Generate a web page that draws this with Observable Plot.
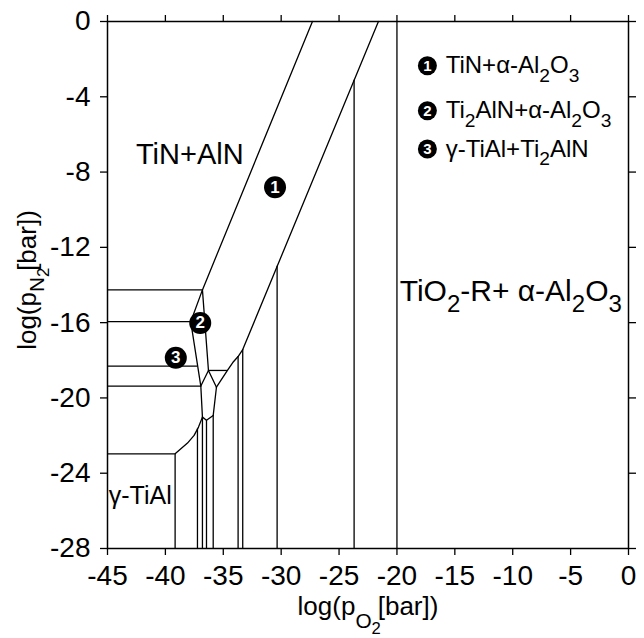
<!DOCTYPE html>
<html><head><meta charset="utf-8">
<script src="https://cdn.jsdelivr.net/npm/d3@7"></script>
<script src="https://cdn.jsdelivr.net/npm/@observablehq/plot@0.6"></script>
<style>body{margin:0;background:#fff}</style>
</head><body><div id="chart"></div>
<script>
// ---- data (log pO2, log pN2) ----
const xTicks = [-45, -40, -35, -30, -25, -20, -15, -10, -5, 0];
const yTicks = [0, -4, -8, -12, -16, -20, -24, -28];

// phase boundary polylines
const bandUpper  = [[-27.3, 0], [-36.80, -14.26]];
const bandLower  = [[-21.6, 0], [-33.32, -17.43], [-33.72, -17.80], [-34.18, -18.12], [-34.64, -18.54], [-35.59, -19.43]];
const wedgeLeft  = [[-36.80, -14.26], [-37.81, -15.95], [-36.94, -19.37]];
const wedgeRight = [[-36.80, -14.26], [-36.28, -18.54]];
const diamond    = [[-36.94, -19.37], [-36.28, -18.54], [-35.59, -19.43]];
const wedgeFoot  = [[-36.94, -19.37], [-36.80, -21.02], [-36.45, -21.19], [-35.87, -20.93], [-35.59, -19.43]];
const gammaCurve = [[-39.16, -22.97], [-38.09, -22.40], [-37.52, -21.99], [-37.14, -21.55], [-36.80, -21.02]];

// horizontal boundaries: y from x1 to x2
const hY  = [-14.26, -15.95, -18.31, -19.37, -18.54, -22.97];
const hX1 = [-45, -45, -45, -45, -36.28, -45];
const hX2 = [-36.80, -37.81, -37.21, -36.94, -34.64, -39.16];

// vertical boundaries: x from yTop down to -28
const vX   = [-39.16, -37.23, -36.80, -36.45, -35.87, -33.72, -33.32, -30.35, -23.70, -20];
const vTop = [-22.97, -21.65, -21.02, -21.19, -20.93, -17.80, -17.43, -13.01, -3.12, 0];

// numbered markers in the diagram
const markNum = ["1", "2", "3"];
const markX   = [-30.53, -36.99, -39.10];
const markY   = [-8.81, -16.02, -17.87];

// legend
const legNum  = ["1", "2", "3"];
const legText = ["TiN+α-Al_{2}O_{3}", "Ti_{2}AlN+α-Al_{2}O_{3}", "γ-TiAl+Ti_{2}AlN"];
const legMX = -17.37, legTX = -15.79;
const legY  = [-2.35, -4.74, -6.77];

// region labels
const regText = ["TiN+AlN", "TiO_{2}-R+ α-Al_{2}O_{3}", "γ-TiAl"];
const regX    = [-37.89, -10.17, -44.89];
const regY    = [-7.10, -14.35, -25.19];
const regSize = [29, 30, 25];
const regAnchor = ["middle", "middle", "start"];

const xLabel = "log(p_{O_{2}}[bar])";
const yLabel = "log(p_{N_{2}}[bar]) ";

// ---- build tables ----
const polylines = {bandUpper, bandLower, wedgeLeft, wedgeRight, diamond, wedgeFoot, gammaCurve};
const lineRows = [];
for (const [name, pts] of Object.entries(polylines)) pts.forEach(([x, y]) => lineRows.push({name, x, y}));
const hRows = hY.map((y, i) => ({y, x1: hX1[i], x2: hX2[i]}));
const vRows = vX.map((x, i) => ({x, y1: vTop[i], y2: -28}));
const marks = markNum.map((n, i) => ({n, x: markX[i], y: markY[i]}));
const legend = legNum.map((n, i) => ({n, t: legText[i], y: legY[i]}));
const regions = regText.map((t, i) => ({t, x: regX[i], y: regY[i], s: regSize[i], a: regAnchor[i]}));

const fmt = d => String(d);
const plot = Plot.plot({
  width: 644, height: 638,
  marginLeft: 107, marginRight: 16, marginTop: 21, marginBottom: 90,
  style: {fontFamily: "'Liberation Sans', Arial, sans-serif", background: "white", color: "black"},
  x: {domain: [-45, 0]},
  y: {domain: [-28, 0]},
  marks: [
    Plot.ruleY(hRows, {y: "y", x1: "x1", x2: "x2", stroke: "black", strokeWidth: 1.3}),
    Plot.ruleX(vRows, {x: "x", y1: "y1", y2: "y2", stroke: "black", strokeWidth: 1.3}),
    Plot.line(lineRows, {x: "x", y: "y", z: "name", stroke: "black", strokeWidth: 1.3}),
    Plot.frame({stroke: "black", strokeWidth: 1.5}),
    Plot.axisX({ticks: xTicks, tickSize: 7, tickPadding: 10, tickFormat: fmt, label: null, fontSize: 28, strokeWidth: 1.3}),
    Plot.axisX({anchor: "top", ticks: xTicks, tickSize: 7, tickFormat: () => "", label: null, strokeWidth: 1.3}),
    Plot.axisY({ticks: yTicks, tickSize: 7, tickPadding: 10, tickFormat: fmt, label: null, fontSize: 28, strokeWidth: 1.3}),
    Plot.axisY({anchor: "right", ticks: yTicks, tickSize: 7, tickFormat: () => "", label: null, strokeWidth: 1.3}),
    // region labels
    ...regions.map(r => Plot.text([r], {x: "x", y: "y", text: "t", fontSize: r.s, textAnchor: r.a, fill: "black"})),
    // numbered markers
    Plot.dot(marks, {x: "x", y: "y", r: 11, fill: "black", stroke: "none"}),
    Plot.text(marks, {x: "x", y: "y", text: "n", fill: "white", fontWeight: "bold", fontSize: 17}),
    // legend
    Plot.dot(legend, {x: () => legMX, y: "y", r: 9.5, fill: "black", stroke: "none"}),
    Plot.text(legend, {x: () => legMX, y: "y", text: "n", fill: "white", fontWeight: "bold", fontSize: 15}),
    Plot.text(legend, {x: () => legTX, y: "y", text: "t", textAnchor: "start", fontSize: 24, fill: "black"}),
    // axis titles
    Plot.text([xLabel], {frameAnchor: "bottom", dy: 58, text: d => d, fontSize: 26, textAnchor: "middle", lineAnchor: "middle", fill: "black"}),
    Plot.text([yLabel], {frameAnchor: "left", dx: -80, dy: -5, rotate: -90, text: d => d, fontSize: 26, textAnchor: "middle", lineAnchor: "middle", fill: "black"})
  ]
});
document.getElementById("chart").appendChild(plot);

// ---- subscript markup -> tspans ----
function parse(s) {
  const segs = []; let level = 0, buf = "";
  for (let i = 0; i < s.length; i++) {
    const c = s[i];
    if (c === "_" && s[i + 1] === "{") { if (buf) segs.push({t: buf, l: level}); buf = ""; level++; i++; }
    else if (c === "}" && level > 0) { if (buf) segs.push({t: buf, l: level}); buf = ""; level--; }
    else buf += c;
  }
  if (buf) segs.push({t: buf, l: level});
  return segs;
}
plot.querySelectorAll("text").forEach(t => {
  const s = t.textContent;
  if (!s.includes("_{")) return;
  const segs = parse(s.trim());
  const base = parseFloat(getComputedStyle(t).fontSize);
  // per-level downward shifts (fraction of base size)
  const shifts = s === xLabel ? [0.52, 0.2] : s === yLabel ? [0.3, 0.22] : [0.36, 0.2];
  const ratio = 0.8;
  while (t.firstChild) t.removeChild(t.firstChild);
  let prev = 0, prevL = 0;
  segs.forEach(seg => {
    let off = 0;
    for (let k = 0; k < seg.l; k++) off += shifts[Math.min(k, shifts.length - 1)] * base;
    const ts = document.createElementNS("http://www.w3.org/2000/svg", "tspan");
    ts.setAttribute("font-size", base * Math.pow(ratio, seg.l));
    if (off !== prev) ts.setAttribute("dy", off - prev);
    if (prevL >= 2 && seg.l === 0) ts.setAttribute("dx", -0.12 * base);
    ts.textContent = seg.t;
    t.appendChild(ts);
    prev = off; prevL = seg.l;
  });
});
</script>
</body></html>
